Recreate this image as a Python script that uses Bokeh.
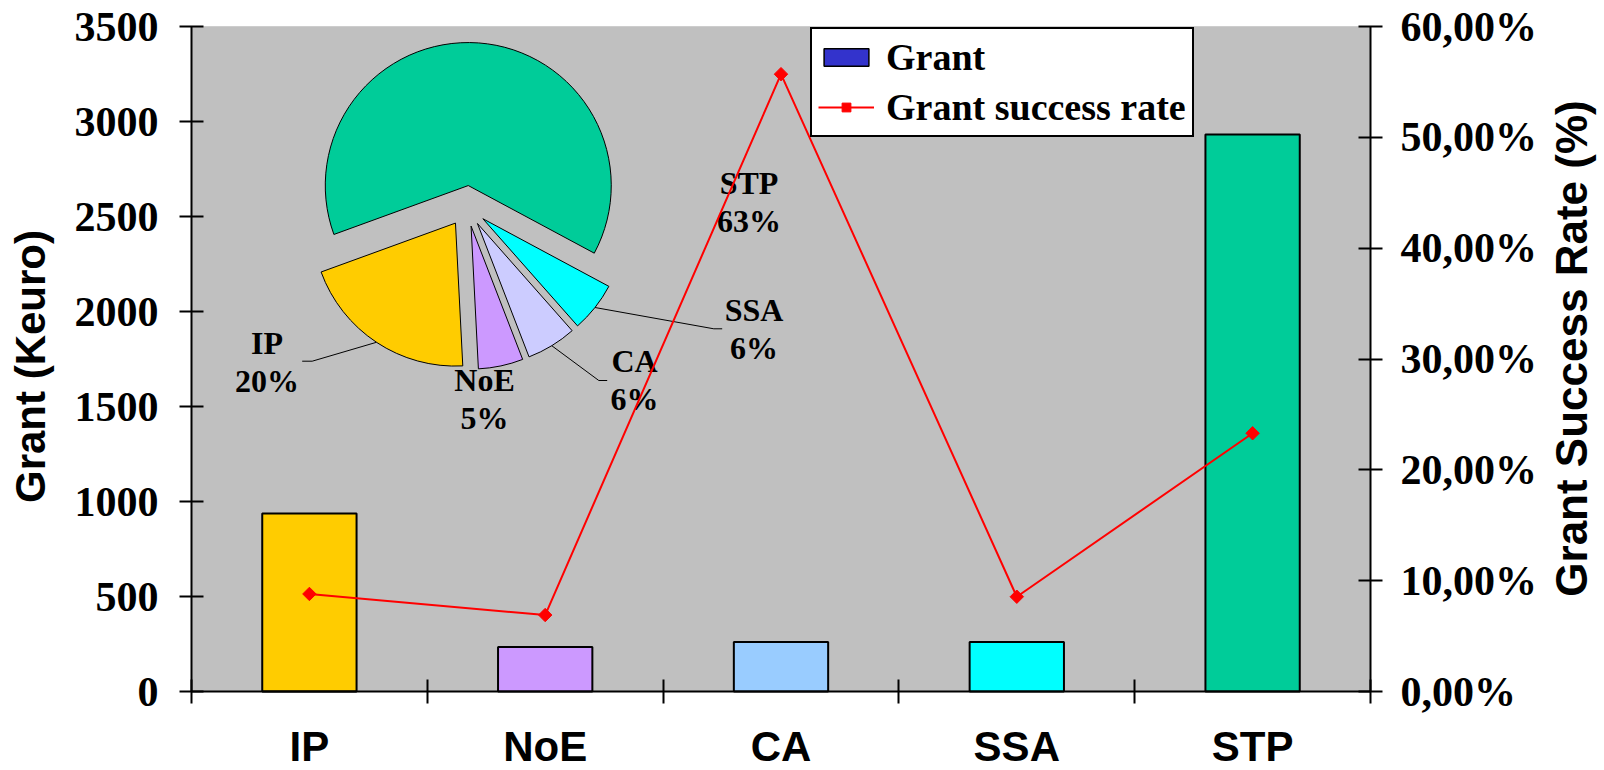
import math
from bokeh.plotting import figure
from bokeh.models import (Range1d, LinearAxis, FixedTicker, CustomJSTickFormatter,
                          ColumnDataSource, Legend, LegendItem, Label, LabelSet, BoxAnnotation)
from bokeh.core.properties import value
from bokeh.embed import file_html
from bokeh.resources import INLINE

# ---------------- data ----------------
categories = ["IP", "NoE", "CA", "SSA", "STP"]
grant_keuro = [937, 234, 261, 261, 2932]
success_rate_pct = [8.8, 6.9, 55.7, 8.55, 23.3]
bar_colors = ["#FFCC00", "#CC99FF", "#99CCFF", "#00FFFF", "#00CC99"]
pie_colors = ["#FFCC00", "#CC99FF", "#CCCCFF", "#00FFFF", "#00CC99"]
grant_ticks = [0, 500, 1000, 1500, 2000, 2500, 3000, 3500]
rate_ticks = [0, 10, 20, 30, 40, 50, 60]

# ---------------- layout constants (pixels) ----------------
FIG_W, FIG_H = 1604, 770
PLOT_L, PLOT_R, PLOT_T, PLOT_B = 191, 1370, 26, 691
PLOT_W, PLOT_H = PLOT_R - PLOT_L, PLOT_B - PLOT_T
N = len(categories)
Y_MAX = 3500
RATE_MAX = 60

def px_x(px):
    return (px - PLOT_L) / PLOT_W * N

def px_y(py):
    return (PLOT_B - py) / PLOT_H * Y_MAX

def dx_px(d):
    return d / PLOT_W * N

def dy_px(d):
    return d / PLOT_H * Y_MAX

SERIF = "Liberation Serif"
SANS = "Liberation Sans"

p = figure(frame_width=FIG_W, frame_height=FIG_H, min_border=0,
           x_range=Range1d(px_x(0), px_x(FIG_W)),
           y_range=Range1d(px_y(FIG_H), px_y(0)),
           output_backend="svg", toolbar_location=None,
           background_fill_color="white", border_fill_color="white",
           outline_line_color=None)
p.xgrid.visible = False
p.ygrid.visible = False

# grey plot area
p.add_layout(BoxAnnotation(left=0, right=N, bottom=0, top=Y_MAX, fill_color="#C0C0C0",
                           fill_alpha=1.0, line_color="#A6A6A6", line_width=1,
                           level="underlay"))

def style_axis(ax, standoff):
    ax.major_label_text_font = SERIF
    ax.major_label_text_font_style = "bold"
    ax.major_label_text_font_size = "42px"
    ax.major_label_text_color = "black"
    ax.major_label_standoff = standoff
    ax.major_tick_in = 12
    ax.major_tick_out = 12
    ax.major_tick_line_width = 2
    ax.axis_line_width = 2
    ax.minor_tick_line_color = None

# left axis
yl = p.yaxis[0]
yl.fixed_location = 0
yl.bounds = (0, Y_MAX)
yl.ticker = FixedTicker(ticks=grant_ticks)
style_axis(yl, 21)

# bottom axis (ticks at category boundaries; names drawn below)
xa = p.xaxis[0]
xa.fixed_location = 0
xa.bounds = (0, N)
xa.ticker = FixedTicker(ticks=list(range(N + 1)))
xa.formatter = CustomJSTickFormatter(code="return '';")
style_axis(xa, 0)

# right axis
p.extra_y_ranges = {"rate": Range1d(px_y(FIG_H) / Y_MAX * RATE_MAX, px_y(0) / Y_MAX * RATE_MAX)}
yr = LinearAxis(y_range_name="rate", fixed_location=N, bounds=(0, RATE_MAX),
                ticker=FixedTicker(ticks=rate_ticks),
                formatter=CustomJSTickFormatter(code="return tick.toFixed(2).replace('.', ',') + '%';"))
style_axis(yr, 18)
p.add_layout(yr, "right")

# ---------------- bars ----------------
xs = [i + 0.5 for i in range(N)]
src = ColumnDataSource(dict(x=xs, cat=categories, grant=grant_keuro,
                            rate=success_rate_pct, color=bar_colors))
p.vbar(x="x", top="grant", width=0.4, fill_color="color", line_color="black",
       line_width=2, source=src)

# ---------------- pie inset ----------------
PIE_CX, PIE_CY = 466.3, 205.5      # page px
PIE_R = 143
PIE_EXPLODE = 20.5
PIE_START_DEG = 200.0
total = sum(grant_keuro)
starts, ends, wx, wy, mids = [], [], [], [], []
a = math.radians(PIE_START_DEG)
for v in grant_keuro:
    span = v / total * 2 * math.pi
    mid = a + span / 2
    starts.append(a)
    ends.append(a + span)
    mids.append(mid)
    wx.append(px_x(PIE_CX) + dx_px(PIE_EXPLODE * math.cos(mid)))
    wy.append(px_y(PIE_CY) + dy_px(PIE_EXPLODE * math.sin(mid)))
    a += span
pie_src = ColumnDataSource(dict(x=wx, y=wy, start=starts, end=ends, color=pie_colors))
p.wedge(x="x", y="y", radius=PIE_R, radius_units="screen", start_angle="start",
        end_angle="end", fill_color="color", line_color="black", line_width=1,
        source=pie_src)

pcts = [f"{round(v / total * 100)}%" for v in grant_keuro]
# label anchor (center x, middle of first text line) in page px
pie_label_pos = {"IP": (266.5, 342.5), "NoE": (484, 379.2), "CA": (634, 360.9),
                 "SSA": (753.5, 309.2), "STP": (748.5, 182.5)}
LINE_GAP = 38
tx, ty, tt = [], [], []
for c, pc in zip(categories, pcts):
    lx, ly = pie_label_pos[c]
    tx += [px_x(lx), px_x(lx)]
    ty += [px_y(ly), px_y(ly + LINE_GAP)]
    tt += [c, pc]
p.text(x=tx, y=ty, text=tt, text_font=value(SERIF), text_font_style="bold",
       text_font_size="32px", text_align="center", text_baseline="middle",
       text_color="black")

# leader lines: from slice arc midpoint to elbow to end (page px)
leaders = {"IP": [(311.7, 360.7), (301.7, 360.7)],
           "CA": [(598.3, 380), (606.7, 380)],
           "SSA": [(713.3, 328.3), (721.7, 328.3)]}
lxs, lys = [], []
for i, c in enumerate(categories):
    if c not in leaders:
        continue
    ax_ = wx[i] + dx_px(PIE_R * math.cos(mids[i]))
    ay_ = wy[i] + dy_px(PIE_R * math.sin(mids[i]))
    pts = leaders[c]
    lxs.append([ax_] + [px_x(q[0]) for q in pts])
    lys.append([ay_] + [px_y(q[1]) for q in pts])
p.multi_line(xs=lxs, ys=lys, line_color="black", line_width=1)

# ---------------- success rate line ----------------
line_r = p.line(x="x", y="rate", y_range_name="rate", line_color="#FF0000",
                line_width=2, source=src)
sc_r = p.scatter(x="x", y="rate", y_range_name="rate", marker="square",
                 angle=math.pi / 4, size=9.5, fill_color="#FF0000",
                 line_color="#FF0000", source=src)

# hidden zero-height bar used only for the legend swatch
dummy = p.vbar(x=xs[:1], top=[0], width=0.4, fill_color="#3333CC", line_color="black",
               line_width=1.5)

LEG_LEFT, LEG_BOTTOM = 810, 137
legend = Legend(items=[LegendItem(label="Grant", renderers=[dummy]),
                       LegendItem(label="Grant success rate", renderers=[line_r, sc_r])],
                location=(LEG_LEFT, FIG_H - LEG_BOTTOM), orientation="vertical",
                border_line_color="black", border_line_width=2, border_line_alpha=1.0,
                background_fill_color="white", background_fill_alpha=1.0,
                label_text_font=SERIF, label_text_font_style="bold",
                label_text_font_size="38px", label_text_color="black",
                glyph_width=56, glyph_height=22, label_standoff=12,
                padding=6, spacing=6, margin=0)
p.add_layout(legend)

# ---------------- category names & axis titles ----------------
CAT_MID = 746
cat_src = ColumnDataSource(dict(x=xs, text=categories))
p.add_layout(LabelSet(x="x", y=FIG_H - CAT_MID, y_units="screen", text="text",
                      source=cat_src, text_font=value(SANS), text_font_style="bold",
                      text_font_size="42px", text_align="center",
                      text_baseline="middle", text_color="black"))

p.add_layout(Label(x=30, y=FIG_H - 366, x_units="screen", y_units="screen",
                   text="Grant (Keuro)", angle=math.pi / 2, text_align="center",
                   text_baseline="middle", text_font=SANS, text_font_style="bold",
                   text_font_size="42px", text_color="black"))
p.add_layout(Label(x=1571, y=FIG_H - 348, x_units="screen", y_units="screen",
                   text="Grant Success Rate (%)", angle=math.pi / 2, text_align="center",
                   text_baseline="middle", text_font=SANS, text_font_style="bold",
                   text_font_size="44px", text_color="black"))

open("out.html", "w").write(file_html(p, INLINE))
